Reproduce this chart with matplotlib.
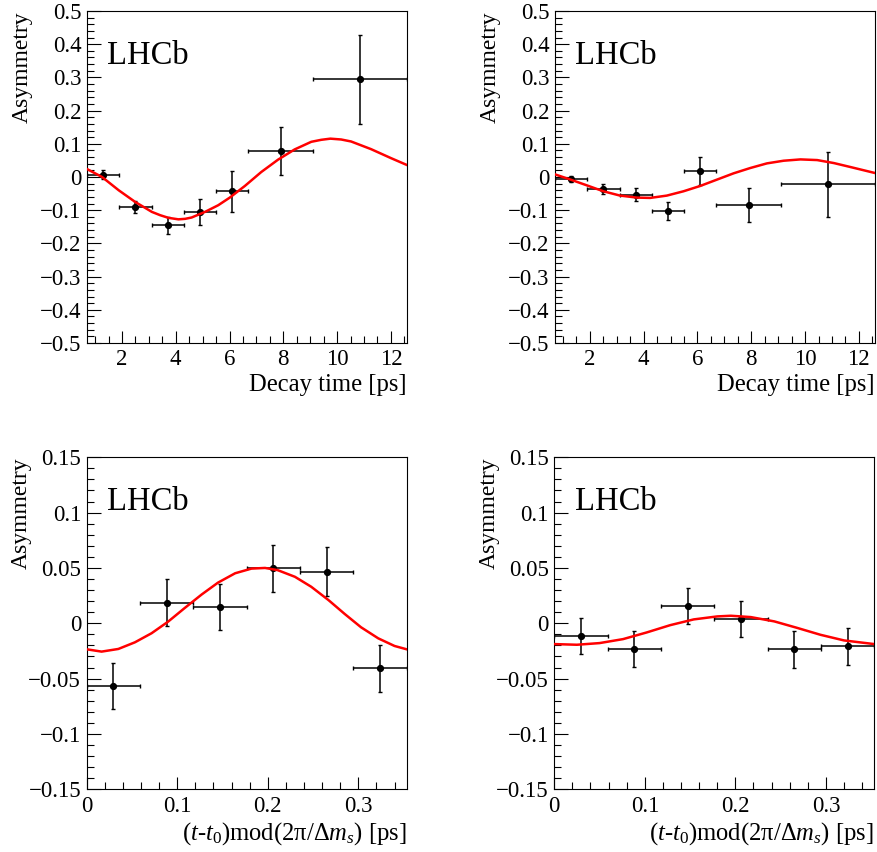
#!/usr/bin/env python
"""Raw asymmetry vs decay time (top) and folded decay time (bottom), LHCb style."""
import matplotlib
matplotlib.use("Agg")
import matplotlib.pyplot as plt
from matplotlib.ticker import FuncFormatter, MultipleLocator

plt.rcParams["font.family"] = ["Liberation Serif", "DejaVu Serif"]
plt.rcParams["mathtext.fontset"] = "custom"
plt.rcParams["mathtext.rm"] = "Liberation Serif"
plt.rcParams["mathtext.it"] = "Liberation Serif:italic"

# --- top row: decay time [ps] ---
time_edges = [0.7, 1.9, 3.1, 4.3, 5.5, 6.7, 9.1, 12.6]

tl_asym = [0.007, -0.091, -0.146, -0.106, -0.043, 0.078, 0.294]
tl_err = [0.014, 0.018, 0.027, 0.039, 0.061, 0.073, 0.135]
tl_fit_t = [0.7, 1.26, 1.88, 2.49, 3.11, 3.42, 3.73, 4.10, 4.35, 4.59, 5.09,
            5.58, 6.01, 6.57, 7.18, 7.80, 8.42, 9.04, 9.41, 9.75, 10.15,
            10.52, 11.26, 12.0, 12.6]
tl_fit_a = [0.024, 0.0, -0.040, -0.075, -0.105, -0.115, -0.123, -0.1275,
            -0.126, -0.122, -0.105, -0.085, -0.062, -0.027, 0.015, 0.052,
            0.083, 0.106, 0.112, 0.1155, 0.113, 0.107, 0.084, 0.057, 0.036]

tr_asym = [-0.006, -0.036, -0.053, -0.103, 0.017, -0.085, -0.022]
tr_err = [0.009, 0.014, 0.020, 0.027, 0.042, 0.051, 0.097]
tr_fit_t = [0.7, 1.25, 1.88, 2.50, 3.12, 3.74, 4.24, 4.86, 5.48, 6.10, 6.72,
            7.34, 7.96, 8.58, 9.20, 9.83, 10.45, 11.07, 11.69, 12.6]
tr_fit_a = [0.008, -0.007, -0.025, -0.043, -0.056, -0.062, -0.063, -0.056,
            -0.043, -0.027, -0.008, 0.011, 0.027, 0.041, 0.049, 0.053, 0.051,
            0.042, 0.030, 0.012]

# --- bottom row: (t - t0) mod (2pi / dms) [ps] ---
fold_edges = [0.0, 0.0589, 0.1178, 0.1767, 0.2356, 0.2945, 0.3534]

bl_asym = [-0.0566, 0.0187, 0.0145, 0.0497, 0.0467, -0.0407]
bl_err = [0.0205, 0.0210, 0.0206, 0.0214, 0.0218, 0.0212]
bl_fit_t = [0.0, 0.0165, 0.035, 0.0533, 0.0717, 0.090, 0.108, 0.127, 0.145,
            0.164, 0.182, 0.197, 0.211, 0.230, 0.248, 0.267, 0.285, 0.303,
            0.322, 0.340, 0.3534]
bl_fit_a = [-0.0235, -0.0256, -0.0232, -0.0172, -0.009, 0.0015, 0.0136, 0.026,
            0.0367, 0.0452, 0.0494, 0.050, 0.048, 0.042, 0.033, 0.021, 0.0084,
            -0.0036, -0.0136, -0.0205, -0.0235]

br_asym = [-0.0119, -0.0233, 0.0155, 0.0041, -0.0233, -0.0209]
br_err = [0.0163, 0.0163, 0.0160, 0.0164, 0.0167, 0.0167]
br_fit_t = [0.0, 0.025, 0.050, 0.076, 0.102, 0.128, 0.154, 0.180, 0.195,
            0.217, 0.243, 0.268, 0.294, 0.320, 0.3534]
br_fit_a = [-0.0188, -0.0194, -0.0179, -0.0143, -0.0083, -0.0017, 0.0035,
            0.0062, 0.0068, 0.0056, 0.0017, -0.0041, -0.0104, -0.0155, -0.0188]

TIME_LABEL = "Decay time [ps]"
FOLD_LABEL = "($t$-$t_0$)mod(2π/Δ$m_s$) [ps]"


def tick_fmt(v, pos):
    if abs(v) < 1e-9:
        return "0"
    return f"{v:g}".replace("-", "\u2212")


def draw_panel(ax, edges, asym, err, fit_t, fit_a, ylim, ymaj, ymin,
               xmaj, xmin, xlabel):
    centres = [(lo + hi) / 2 for lo, hi in zip(edges[:-1], edges[1:])]
    half = [(hi - lo) / 2 for lo, hi in zip(edges[:-1], edges[1:])]
    ax.errorbar(centres, asym, yerr=err, xerr=half, fmt="o", color="black",
                ms=4.2, elinewidth=1.1, capsize=1.6, capthick=1.0, zorder=3)
    ax.plot(fit_t, fit_a, color="red", lw=1.8, zorder=4,
            solid_joinstyle="round")

    ax.set_xlim(edges[0], edges[-1])
    ax.set_ylim(*ylim)
    ax.yaxis.set_major_locator(MultipleLocator(ymaj))
    ax.yaxis.set_minor_locator(MultipleLocator(ymin))
    ax.xaxis.set_major_locator(MultipleLocator(xmaj))
    ax.xaxis.set_minor_locator(MultipleLocator(xmin))
    ax.xaxis.set_major_formatter(FuncFormatter(tick_fmt))
    ax.yaxis.set_major_formatter(FuncFormatter(tick_fmt))
    ax.tick_params(which="both", direction="in", top=False, right=False,
                   labelsize=16.5, width=0.8)
    ax.tick_params(axis="y", which="major", length=10, pad=4)
    ax.tick_params(axis="y", which="minor", length=5)
    ax.tick_params(axis="x", which="major", length=9, pad=4.5)
    ax.tick_params(axis="x", which="minor", length=5)
    for sp in ax.spines.values():
        sp.set_linewidth(0.8)

    ax.set_xlabel(xlabel, fontsize=17.7, loc="right")
    ax.xaxis.set_label_coords(1.0, -0.092)
    ax.set_ylabel("Asymmetry", fontsize=17, loc="top")
    ax.yaxis.set_label_coords(-0.17, 1.0)
    ax.text(0.064, 0.84, "LHCb", transform=ax.transAxes, fontsize=23.5,
            ha="left", va="baseline")


fig = plt.figure(figsize=(8.77, 8.52), dpi=100)
w, h = 0.3649, 0.3897
ax_tl = fig.add_axes([0.0992, 0.5974, w, h])
ax_tr = fig.add_axes([0.6328, 0.5974, w, h])
ax_bl = fig.add_axes([0.0988, 0.0736, w, h])
ax_br = fig.add_axes([0.6320, 0.0736, w, h])

draw_panel(ax_tl, time_edges, tl_asym, tl_err, tl_fit_t, tl_fit_a,
           (-0.5, 0.5), 0.1, 0.02, 2, 0.5, TIME_LABEL)
draw_panel(ax_tr, time_edges, tr_asym, tr_err, tr_fit_t, tr_fit_a,
           (-0.5, 0.5), 0.1, 0.02, 2, 0.5, TIME_LABEL)
draw_panel(ax_bl, fold_edges, bl_asym, bl_err, bl_fit_t, bl_fit_a,
           (-0.15, 0.15), 0.05, 0.01, 0.1, 0.02, FOLD_LABEL)
draw_panel(ax_br, fold_edges, br_asym, br_err, br_fit_t, br_fit_a,
           (-0.15, 0.15), 0.05, 0.01, 0.1, 0.02, FOLD_LABEL)

fig.savefig("out.png", dpi=100)
